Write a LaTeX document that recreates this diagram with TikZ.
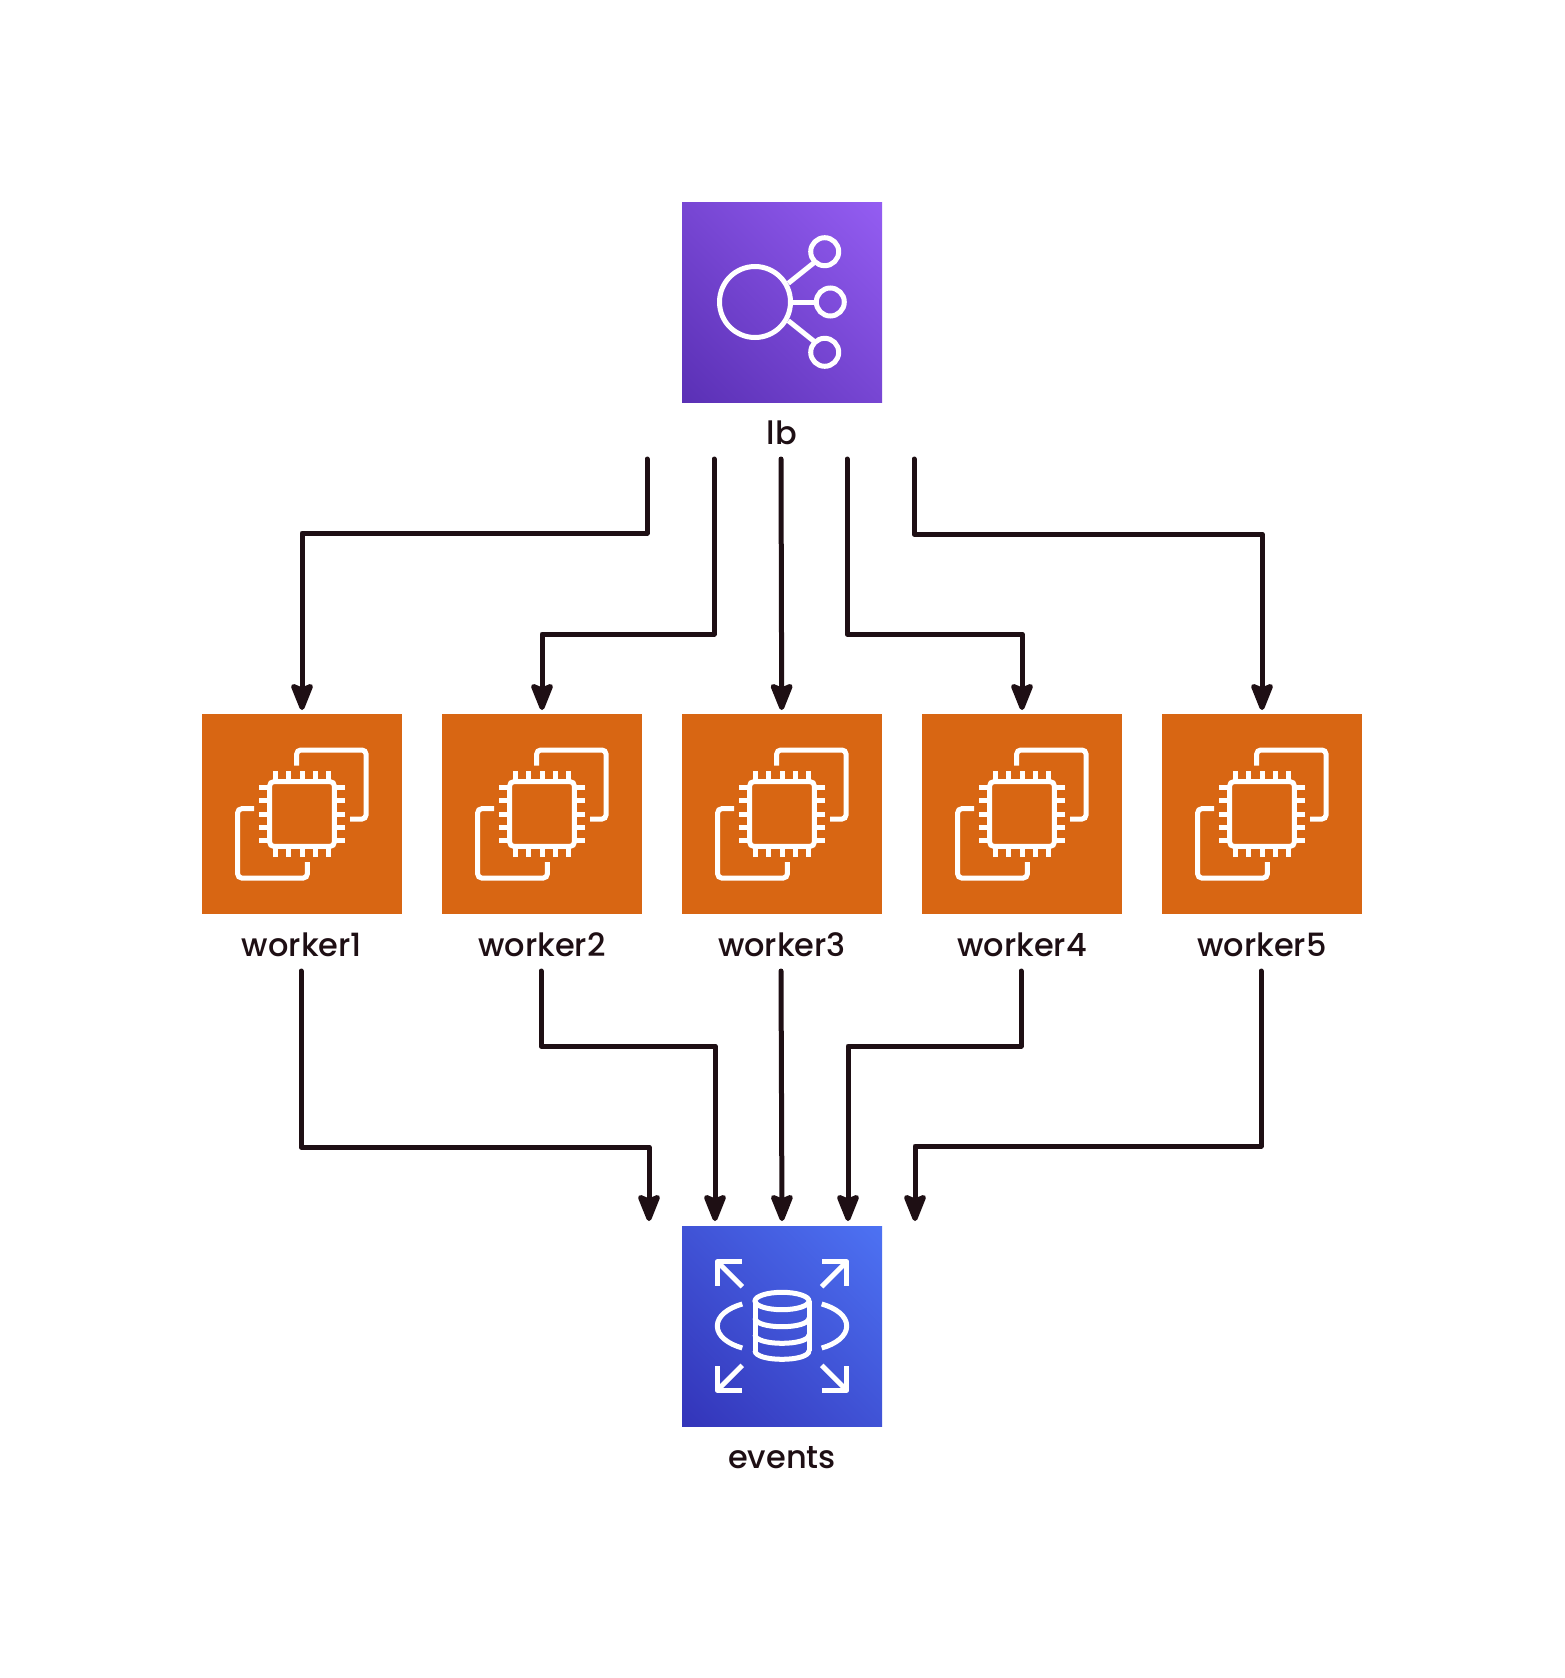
\documentclass[tikz,border=0pt]{standalone}
\usepackage{fontspec}
\setmainfont{Poppins Medium}
\usetikzlibrary{arrows.meta,shadings}

\definecolor{inkdark}{HTML}{1E0F14}
\definecolor{ectwo}{HTML}{D86613}
\definecolor{lblow}{HTML}{5A30B5}
\definecolor{lbmid}{HTML}{7746D3}
\definecolor{lbhigh}{HTML}{945DF2}
\definecolor{eventslow}{HTML}{3334B9}
\definecolor{eventsmid}{HTML}{4053D6}
\definecolor{eventshigh}{HTML}{4D72F3}

\tikzset{
  iconline/.style={draw=white,line width=5pt,fill=none},
  flow/.style={draw=inkdark,line width=5pt,line cap=round,line join=round,-{Stealth[length=32pt,width=25pt,inset=5pt,round]}},
  boxlabel/.style={text=inkdark,anchor=base,font=\fontsize{32}{32}\selectfont},
  lbbox/.style={minimum size=200pt,inner sep=0pt,outer sep=0pt,shade,
    lower left=lblow,upper right=lbhigh,upper left=lbmid,lower right=lbmid},
  workerbox/.style={minimum size=200pt,inner sep=0pt,outer sep=0pt,fill=ectwo},
  eventsbox/.style={minimum size=200pt,inner sep=0pt,outer sep=0pt,shade,
    lower left=eventslow,upper right=eventshigh,upper left=eventsmid,lower right=eventsmid},
  lbicon/.pic={
    \draw[iconline] (-27,0) circle [radius=35.5];
    \draw[iconline] (42.7,-50.3) circle [radius=14];
    \draw[iconline] (48.3,0) circle [radius=14];
    \draw[iconline] (42.7,50.3) circle [radius=14];
    \draw[iconline] (6.3,-18.7) -- (32,-39.3);
    \draw[iconline] (9,0) -- (34,0);
    \draw[iconline] (6.3,18.7) -- (32,39.3);
  },
  workericon/.pic={
    \draw[iconline,rounded corners=4pt] (-32.3,-32.3) rectangle (32.3,32.3);
    \draw[iconline] (-26.7,-43) -- (-26.7,-32) (-13.3,-43) -- (-13.3,-32) (0,-43) -- (0,-32) (13.3,-43) -- (13.3,-32) (26.7,-43) -- (26.7,-32);
    \draw[iconline] (-26.7,43) -- (-26.7,32) (-13.3,43) -- (-13.3,32) (0,43) -- (0,32) (13.3,43) -- (13.3,32) (26.7,43) -- (26.7,32);
    \draw[iconline] (-43,-26.7) -- (-32,-26.7) (-43,-13.3) -- (-32,-13.3) (-43,0) -- (-32,0) (-43,13.3) -- (-32,13.3) (-43,26.7) -- (-32,26.7);
    \draw[iconline] (43,-26.7) -- (32,-26.7) (43,-13.3) -- (32,-13.3) (43,0) -- (32,0) (43,13.3) -- (32,13.3) (43,26.7) -- (32,26.7);
    \draw[iconline,rounded corners=4pt] (-5.3,-48.3) -- (-5.3,-64) -- (64,-64) -- (64,5) -- (48,5);
    \draw[iconline,rounded corners=4pt] (-48,-5.3) -- (-64.3,-5.3) -- (-64.3,64) -- (5.3,64) -- (5.3,48);
  },
  eventsicon/.pic={
    \draw[iconline,line join=round] (-40,-64.3) -- (-64.7,-64.3) -- (-64.7,-40);
    \draw[iconline] (-64.7,-64.3) -- (-39.7,-39.3);
    \draw[iconline,line join=round] (40,-64.3) -- (64.7,-64.3) -- (64.7,-40);
    \draw[iconline] (64.7,-64.3) -- (39.7,-39.3);
    \draw[iconline,line join=round] (-40,64.3) -- (-64.7,64.3) -- (-64.7,40);
    \draw[iconline] (-64.7,64.3) -- (-39.7,39.3);
    \draw[iconline,line join=round] (40,64.3) -- (64.7,64.3) -- (64.7,40);
    \draw[iconline] (64.7,64.3) -- (39.7,39.3);
    \draw[iconline] (-39.7,-22) .. controls (-54,-18) and (-64.7,-10) .. (-64.7,0) .. controls (-64.7,10) and (-54,18) .. (-39.7,22);
    \draw[iconline] (39.7,-22) .. controls (54,-18) and (64.7,-10) .. (64.7,0) .. controls (64.7,10) and (54,18) .. (39.7,22);
    \draw[iconline] (0,-25) ellipse [x radius=27,y radius=8.7];
    \draw[iconline] (-27,-25) -- (-27,24.6) (27,-25) -- (27,24.6);
    \draw[iconline] (-27,-8) .. controls (-27,3.6) and (27,3.6) .. (27,-8);
    \draw[iconline] (-27,8.6) .. controls (-27,20.2) and (27,20.2) .. (27,8.6);
    \draw[iconline] (-27,24.6) .. controls (-27,36.2) and (27,36.2) .. (27,24.6);
  }
}

\begin{document}
\begin{tikzpicture}[x=1pt,y=-1pt]

        \useasboundingbox (0,0) rectangle (1564,1678);

        \node[lbbox] (lb) at (782,302) {};
        \node[workerbox] (worker1) at (302,814) {};
        \node[workerbox] (worker2) at (542,814) {};
        \node[workerbox] (worker3) at (782,814) {};
        \node[workerbox] (worker4) at (1022,814) {};
        \node[workerbox] (worker5) at (1262,814) {};
        \node[eventsbox] (events) at (782,1326) {};

        \pic at (lb) {lbicon};
        \pic at (worker1) {workericon};
        \pic at (worker2) {workericon};
        \pic at (worker3) {workericon};
        \pic at (worker4) {workericon};
        \pic at (worker5) {workericon};
        \pic at (events) {eventsicon};

        \node[boxlabel] (lblabel) at (782,444) {lb};
        \node[boxlabel] (worker1label) at (302,956) {worker1};
        \node[boxlabel] (worker2label) at (542,956) {worker2};
        \node[boxlabel] (worker3label) at (782,956) {worker3};
        \node[boxlabel] (worker4label) at (1022,956) {worker4};
        \node[boxlabel] (worker5label) at (1262,956) {worker5};
        \node[boxlabel] (eventslabel) at (782,1468) {events};

        % free ends under lb
        \coordinate (lbout1) at (647,459);
        \coordinate (lbout2) at (714,459);
        \coordinate (lbout3) at (781,459);
        \coordinate (lbout4) at (847,459);
        \coordinate (lbout5) at (914,459);

        % free ends under the workers
        \coordinate (out1) at (301,971);
        \coordinate (out2) at (541,971);
        \coordinate (out3) at (781,971);
        \coordinate (out4) at (1021,971);
        \coordinate (out5) at (1261,971);

        % free ends over events
        \coordinate (in1) at (649,1221);
        \coordinate (in2) at (715,1221);
        \coordinate (in3) at (782,1221);
        \coordinate (in4) at (848,1221);
        \coordinate (in5) at (915,1221);

        \begin{scope}[shorten >=4pt]
          \draw[flow] (lbout1) -- ++(0,74) -| (worker1);
          \draw[flow] (lbout2) -- ++(0,175) -| (worker2);
          \draw[flow] (lbout3) -- (worker3);
          \draw[flow] (lbout4) -- ++(0,175) -| (worker4);
          \draw[flow] (lbout5) -- ++(0,75) -| (worker5);
        \end{scope}

        \draw[flow] (out1) -- ++(0,176) -| (in1);
        \draw[flow] (out2) -- ++(0,75) -| (in2);
        \draw[flow] (out3) -- (in3);
        \draw[flow] (out4) -- ++(0,75) -| (in4);
        \draw[flow] (out5) -- ++(0,175) -| (in5);

      \end{tikzpicture}
\end{document}
